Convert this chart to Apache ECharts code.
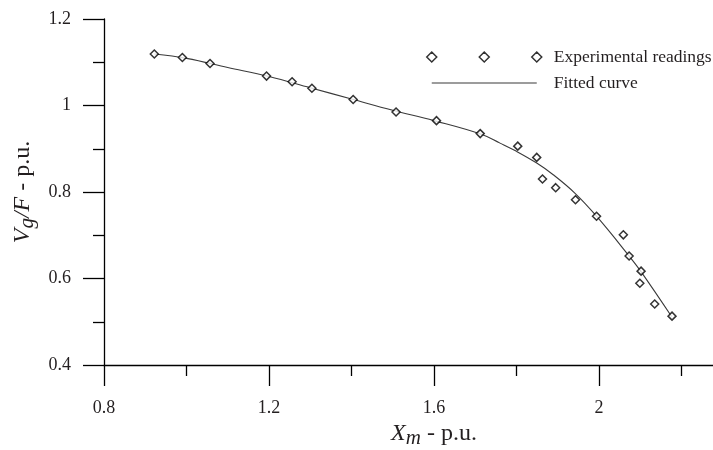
<!DOCTYPE html>
<html>
<head>
<meta charset="utf-8">
<script src="https://cdn.jsdelivr.net/npm/echarts@6/dist/echarts.min.js"></script>
<style>html,body{margin:0;padding:0;background:#fff}#c{width:713px;height:450px}</style>
</head>
<body>
<div id="c"></div>
<script>
// Experimental readings (Xm, Vg/F)
var expX = [0.922, 0.990, 1.057, 1.194, 1.256, 1.304, 1.404, 1.508, 1.606, 1.712, 1.803, 1.849, 1.863, 1.895, 1.943, 1.994, 2.059, 2.073, 2.102, 2.099, 2.135, 2.177];
var expY = [1.119, 1.111, 1.097, 1.068, 1.055, 1.040, 1.014, 0.985, 0.965, 0.935, 0.906, 0.880, 0.830, 0.810, 0.782, 0.744, 0.701, 0.652, 0.617, 0.589, 0.541, 0.513];
// Fitted curve
var fitX = [0.922, 1.0, 1.1, 1.2, 1.3, 1.4, 1.5, 1.6, 1.713, 1.76, 1.8, 1.849, 1.889, 1.942, 1.994, 2.073, 2.101, 2.176];
var fitY = [1.119, 1.109, 1.088, 1.067, 1.041, 1.015, 0.989, 0.965, 0.934, 0.913, 0.894, 0.867, 0.840, 0.797, 0.744, 0.652, 0.617, 0.512];
var xTickLabels = ['0.8', '1.2', '1.6', '2'];
var yTickLabels = ['0.4', '0.6', '0.8', '1', '1.2'];
var legendNames = ['Experimental readings', 'Fitted curve'];

var SERIF = '"Liberation Serif", "Times New Roman", serif';
var ink = '#231f20';

var chart = echarts.init(document.getElementById('c'), null, {renderer: 'canvas'});
chart.setOption({
  animation: false,
  backgroundColor: '#fff',
  grid: {left: 104, top: 19, height: 346, width: 660, containLabel: false, outerBoundsMode: 'none'},
  legend: {
    left: 426, top: 48, orient: 'vertical', itemGap: 8, padding: 0,
    itemWidth: 115, itemHeight: 10,
    textStyle: {fontFamily: SERIF, fontSize: 17.5, color: ink, lineHeight: 18, padding: [0, 0, 0, 7]},
    data: [
      {name: legendNames[0],
       icon: 'path://M0,5 L5,0 L10,5 L5,10 Z M52.5,5 L57.5,0 L62.5,5 L57.5,10 Z M105,5 L110,0 L115,5 L110,10 Z',
       itemStyle: {color: '#fff', borderColor: '#000', borderWidth: 1.5}},
      {name: legendNames[1],
       icon: 'path://M0,0 L0,0 M5,4.4 L110,4.4 L110,5.6 L5,5.6 Z M115,10 L115,10',
       itemStyle: {color: '#3a3a3a', borderWidth: 0}}
    ]
  },
  xAxis: {
    type: 'value', min: 0.8, max: 2.4, interval: 0.4,
    axisLine: {show: true, onZero: false, lineStyle: {color: '#000', width: 1.3}},
    axisTick: {show: true, length: 21, lineStyle: {color: '#000', width: 1.3}},
    minorTick: {show: true, splitNumber: 2, length: 11, lineStyle: {color: '#000', width: 1.3}},
    splitLine: {show: false},
    axisLabel: {
      margin: 34, fontFamily: SERIF, fontSize: 18, color: ink, showMaxLabel: false,
      formatter: function (v) {
        var s = String(Math.round(v * 10) / 10);
        return xTickLabels.indexOf(s) >= 0 ? s : '';
      }
    },
    name: '{i|X}{s|m}{n| - p.u.}', nameLocation: 'middle', nameGap: 54,
    nameTextStyle: {
      rich: {
        i: {fontFamily: SERIF, fontSize: 24, fontStyle: 'italic', color: ink},
        s: {fontFamily: SERIF, fontSize: 21, fontStyle: 'italic', color: ink, padding: [9, 0, 0, 0]},
        n: {fontFamily: SERIF, fontSize: 24, color: ink}
      }
    }
  },
  yAxis: {
    type: 'value', min: 0.4, max: 1.2, interval: 0.2,
    axisLine: {show: true, onZero: false, lineStyle: {color: '#000', width: 1.3}},
    axisTick: {show: true, length: 21, lineStyle: {color: '#000', width: 1.3}},
    minorTick: {show: true, splitNumber: 2, length: 11, lineStyle: {color: '#000', width: 1.3}},
    splitLine: {show: false},
    axisLabel: {
      margin: 33, fontFamily: SERIF, fontSize: 18, color: ink,
      formatter: function (v) {
        var s = String(Math.round(v * 10) / 10);
        return yTickLabels.indexOf(s) >= 0 ? s : '';
      }
    },
    name: '{i|V}{s|g}{i|/F}{n| - p.u.}', nameLocation: 'middle', nameGap: 62,
    nameTextStyle: {
      rich: {
        i: {fontFamily: SERIF, fontSize: 24, fontStyle: 'italic', color: ink},
        s: {fontFamily: SERIF, fontSize: 21, fontStyle: 'italic', color: ink, padding: [9, 0, 0, 0]},
        n: {fontFamily: SERIF, fontSize: 24, color: ink}
      }
    }
  },
  series: [
    {
      name: legendNames[0], type: 'scatter', symbol: 'diamond', symbolSize: 8,
      itemStyle: {color: '#fff', borderColor: '#000', borderWidth: 1.5},
      data: expX.map(function (x, i) { return [x, expY[i]]; }),
      z: 3
    },
    {
      name: legendNames[1], type: 'line', smooth: 0.4, showSymbol: false, symbol: 'none',
      lineStyle: {color: '#3a3a3a', width: 1.1},
      itemStyle: {color: '#3a3a3a'},
      data: fitX.map(function (x, i) { return [x, fitY[i]]; }),
      z: 2
    }
  ]
});
</script>
</body>
</html>
